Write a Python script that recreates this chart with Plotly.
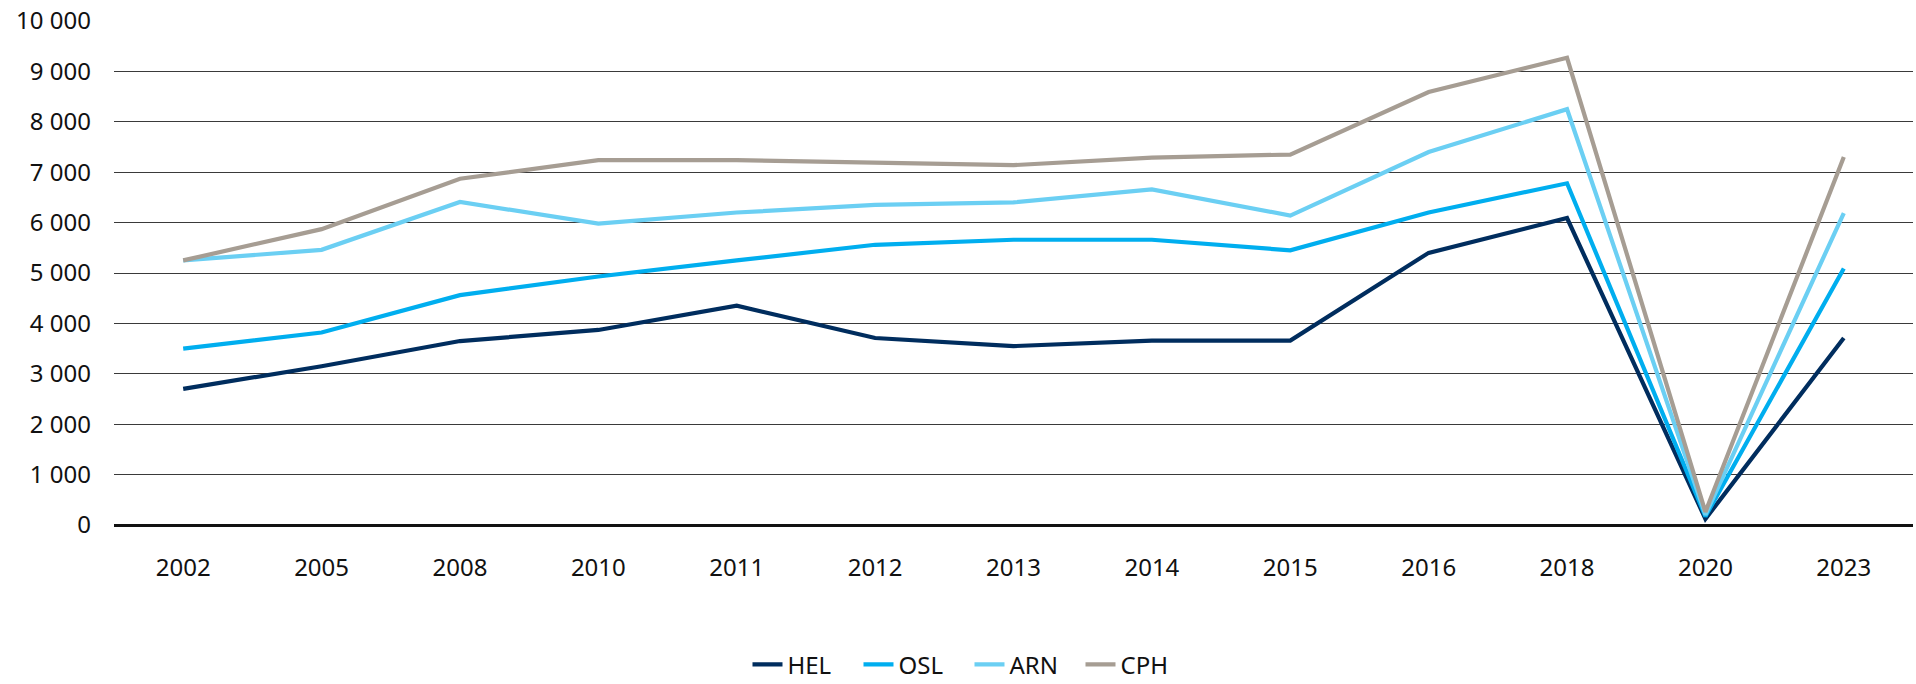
import plotly.graph_objects as go

years = ["2002", "2005", "2008", "2010", "2011", "2012", "2013", "2014", "2015", "2016", "2018", "2020", "2023"]
hel = [2700, 3150, 3650, 3870, 4350, 3710, 3550, 3660, 3660, 5400, 6090, 120, 3710]
osl = [3500, 3820, 4560, 4930, 5250, 5560, 5660, 5660, 5450, 6200, 6780, 170, 5090]
arn = [5250, 5460, 6410, 5980, 6200, 6350, 6400, 6660, 6140, 7400, 8250, 200, 6190]
cph = [5250, 5870, 6870, 7240, 7240, 7190, 7140, 7290, 7350, 8590, 9270, 260, 7300]

series = [("HEL", hel, "#002D5E"), ("OSL", osl, "#00AEEF"),
          ("ARN", arn, "#6BCFF3"), ("CPH", cph, "#A69D93")]

fig = go.Figure()
for name, vals, col in series:
    fig.add_trace(go.Scatter(x=years, y=vals, name=name, mode="lines",
                             line=dict(color=col, width=4.2)))

fig.update_layout(
    width=1916, height=684,
    margin=dict(l=114, r=3, t=21, b=159),
    paper_bgcolor="white", plot_bgcolor="white",
    separators=". ",
    font=dict(family="Noto Sans", size=24, color="#111111"),
    showlegend=True,
    legend=dict(orientation="h", xref="container", yref="container",
                x=0.506, xanchor="center", y=0.028, yanchor="middle",
                font=dict(size=24), itemwidth=30, tracegroupgap=0,
                entrywidth=66, entrywidthmode="pixels",
                bgcolor="rgba(0,0,0,0)"),
)
fig.update_xaxes(type="category", range=[-0.5, 12.5], showgrid=False,
                 showline=False, ticks="", ticklabelstandoff=26, automargin=False)
fig.update_yaxes(range=[0, 10000], dtick=1000, tickformat=",d",
                 showgrid=True, gridcolor="#3a3a3a", gridwidth=1,
                 zeroline=True, zerolinecolor="#111111", zerolinewidth=2.5,
                 showline=False, ticks="", ticklabelstandoff=22, automargin=False)

fig.write_html("out.html", config={"displayModeBar": False},
               post_script="document.body.style.margin='0';")
